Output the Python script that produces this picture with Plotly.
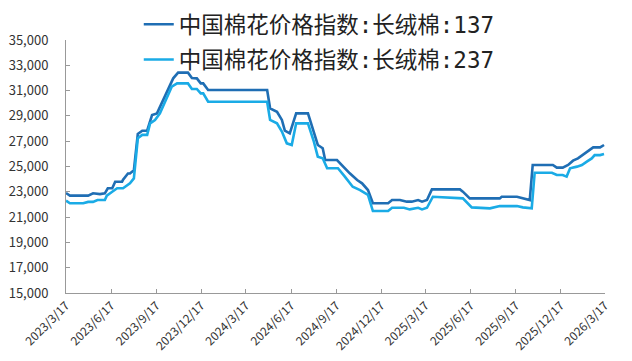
import plotly.graph_objects as go

series_names = ["中国棉花价格指数:长绒棉:137", "中国棉花价格指数:长绒棉:237"]

dates_137 = [
    "2023-03-17", "2023-03-25", "2023-05-01", "2023-05-11", "2023-05-25", "2023-06-04",
    "2023-06-10", "2023-06-19", "2023-06-25", "2023-07-09", "2023-07-11", "2023-07-21",
    "2023-07-25", "2023-08-02", "2023-08-10", "2023-08-19", "2023-08-29", "2023-08-31",
    "2023-09-08", "2023-09-18", "2023-09-24", "2023-09-30", "2023-10-10", "2023-10-21",
    "2023-10-31", "2023-11-20", "2023-11-28", "2023-12-08", "2023-12-16", "2023-12-21",
    "2023-12-31", "2024-01-10", "2024-04-29", "2024-05-05", "2024-05-19", "2024-05-29",
    "2024-06-04", "2024-06-14", "2024-06-27", "2024-07-21", "2024-07-31", "2024-08-10",
    "2024-08-20", "2024-08-25", "2024-09-18", "2024-09-30", "2024-10-14", "2024-10-29",
    "2024-11-08", "2024-11-20", "2024-11-30", "2024-12-31", "2025-01-08", "2025-01-24",
    "2025-02-07", "2025-02-17", "2025-03-02", "2025-03-10", "2025-03-20", "2025-03-30",
    "2025-05-26", "2025-06-01", "2025-06-15", "2025-08-15", "2025-08-19", "2025-09-19",
    "2025-10-01", "2025-10-15", "2025-10-21", "2025-12-01", "2025-12-09", "2025-12-21",
    "2026-01-01", "2026-01-11", "2026-01-21", "2026-01-31", "2026-02-10", "2026-02-21",
    "2026-03-07", "2026-03-15",
]
values_137 = [
    22900, 22700, 22700, 22880, 22820, 22880,
    23280, 23280, 23800, 23800, 23950, 24450,
    24450, 24700, 27570, 27830, 27830, 28050,
    29070, 29200, 29730, 30140, 31050, 31970,
    32420, 32420, 32000, 31970, 31570, 31570,
    31050, 31050, 31050, 29600, 29330, 28680,
    27830, 27620, 29200, 29200, 28020, 26700,
    26440, 25510, 25510, 24990, 24460, 23930,
    23670, 23140, 22090, 22090, 22350, 22350,
    22220, 22220, 22350, 22220, 22350, 23190,
    23190, 23010, 22480, 22480, 22610, 22610,
    22480, 22350, 25120, 25120, 24910, 24910,
    25120, 25460, 25640, 25900, 26160, 26510,
    26510, 26700,
]

dates_237 = [
    "2023-03-17", "2023-03-25", "2023-04-21", "2023-05-01", "2023-05-11", "2023-05-20",
    "2023-06-04", "2023-06-08", "2023-06-19", "2023-06-29", "2023-07-11", "2023-07-25",
    "2023-08-02", "2023-08-10", "2023-08-19", "2023-08-29", "2023-09-04", "2023-09-14",
    "2023-09-24", "2023-10-04", "2023-10-18", "2023-10-29", "2023-11-20", "2023-11-28",
    "2023-12-08", "2023-12-16", "2023-12-21", "2023-12-31", "2024-04-29", "2024-05-05",
    "2024-05-19", "2024-05-29", "2024-06-08", "2024-06-18", "2024-06-27", "2024-07-21",
    "2024-08-02", "2024-08-10", "2024-08-20", "2024-08-29", "2024-09-20", "2024-10-04",
    "2024-10-20", "2024-11-04", "2024-11-20", "2024-11-30", "2024-12-31", "2025-01-08",
    "2025-02-01", "2025-02-13", "2025-03-02", "2025-03-10", "2025-03-20", "2025-04-01",
    "2025-05-26", "2025-06-01", "2025-06-19", "2025-07-26", "2025-08-15", "2025-09-19",
    "2025-10-01", "2025-10-19", "2025-10-25", "2025-11-29", "2025-12-09", "2025-12-21",
    "2025-12-29", "2026-01-05", "2026-01-19", "2026-01-29", "2026-02-08", "2026-02-18",
    "2026-02-24", "2026-03-07", "2026-03-15",
]
values_237 = [
    22300, 22090, 22090, 22200, 22200, 22350,
    22350, 22700, 23000, 23280, 23280, 23670,
    24060, 27230, 27500, 27500, 28410, 28680,
    29200, 30140, 31310, 31570, 31570, 31130,
    31130, 30780, 30780, 30120, 30120, 28680,
    28410, 27760, 26830, 26700, 28410, 28410,
    26960, 25780, 25650, 24860, 24860, 24200,
    23400, 23140, 22750, 21480, 21480, 21740,
    21740, 21610, 21740, 21610, 21740, 22610,
    22480, 22480, 21770, 21690, 21870, 21870,
    21770, 21690, 24510, 24510, 24330, 24330,
    24200, 24860, 24990, 25120, 25380, 25640,
    25900, 25900, 25980,
]

tick_dates = [
    "2023-03-17", "2023-06-17", "2023-09-17", "2023-12-17", "2024-03-17", "2024-06-17",
    "2024-09-17", "2024-12-17", "2025-03-17", "2025-06-17", "2025-09-17", "2025-12-17",
    "2026-03-17",
]
tick_labels = [
    "2023/3/17", "2023/6/17", "2023/9/17", "2023/12/17", "2024/3/17", "2024/6/17",
    "2024/9/17", "2024/12/17", "2025/3/17", "2025/6/17", "2025/9/17", "2025/12/17",
    "2026/3/17",
]
y_ticks = [15000, 17000, 19000, 21000, 23000, 25000, 27000, 29000, 31000, 33000, 35000]

colors = ["#1f6eb4", "#1aabe6"]

fig = go.Figure()
fig.add_trace(go.Scatter(x=dates_137, y=values_137, mode="lines", name=series_names[0],
                         line=dict(color=colors[0], width=2.6), legendgroup="a"))
fig.add_trace(go.Scatter(x=dates_237, y=values_237, mode="lines", name=series_names[1],
                         line=dict(color=colors[1], width=2.6), legendgroup="b"))

font_family = "Noto Sans CJK SC, Liberation Sans, sans-serif"
legend_family = "DejaVu Sans Mono, Noto Sans CJK SC, sans-serif"

fig.update_layout(
    width=632, height=361,
    margin=dict(l=66, r=27, t=40, b=68, autoexpand=False),
    plot_bgcolor="white", paper_bgcolor="white",
    font=dict(family=font_family, color="#333333", size=12),
    showlegend=True,
    legend=dict(
        x=0.135, y=1.146, xanchor="left", yanchor="top",
        font=dict(size=22.5, color="#222222", family=legend_family),
        bgcolor="rgba(0,0,0,0)",
        tracegroupgap=3,
        itemwidth=30,
    ),
    xaxis=dict(
        type="date",
        range=["2023-03-17", "2026-03-17"],
        tickmode="array", tickvals=tick_dates, ticktext=tick_labels,
        tickangle=-45,
        ticks="inside", ticklen=4, tickcolor="#999999",
        showline=True, linecolor="#999999", linewidth=1,
        showgrid=False, zeroline=False,
        tickfont=dict(size=12, color="#333333"),
    ),
    yaxis=dict(
        range=[15000, 35000],
        tickmode="array", tickvals=y_ticks,
        tickformat=",d",
        ticks="inside", ticklen=4, tickcolor="#999999",
        showline=True, linecolor="#999999", linewidth=1,
        showgrid=False, zeroline=False,
        ticklabelstandoff=14,
        tickfont=dict(size=13, color="#333333"),
    ),
)

fig.write_html("out.html")
